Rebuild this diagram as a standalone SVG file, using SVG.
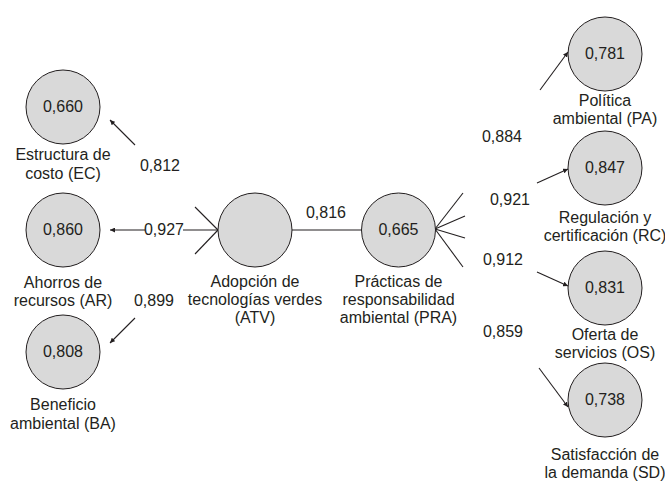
<svg xmlns="http://www.w3.org/2000/svg" width="665" height="481" viewBox="0 0 665 481">
<style>
.c{fill:#d9d9d9;stroke:#231f20;stroke-width:1}
.t{font-family:"Liberation Sans",Arial,sans-serif;font-size:16px;fill:#231f20;text-anchor:middle}
.l{stroke:#231f20;stroke-width:1.1;fill:none}
.a{stroke:#231f20;stroke-width:1.1;fill:none;marker-end:url(#ah)}
</style>
<defs>
<marker id="ah" markerWidth="6" markerHeight="5" refX="5" refY="2.5" orient="auto" markerUnits="userSpaceOnUse">
<path d="M0,0 L5,2.5 L0,5 Z" fill="#231f20"/>
</marker>
</defs>
<rect width="665" height="481" fill="#ffffff"/>
<g id="connectors">
<line class="a" x1="135" y1="145" x2="110" y2="120"/>
<line class="a" x1="145" y1="230" x2="110" y2="230"/>
<line class="l" x1="183" y1="230" x2="218" y2="230"/>
<line class="a" x1="135" y1="318" x2="110" y2="343"/>
<line class="l" x1="218" y1="230" x2="195" y2="207"/>
<line class="l" x1="218" y1="230" x2="195" y2="254"/>
<line class="l" x1="292" y1="230" x2="362" y2="230"/>
<line class="l" x1="435" y1="229" x2="463" y2="193"/>
<line class="l" x1="435" y1="229" x2="465" y2="216"/>
<line class="l" x1="435" y1="229" x2="465" y2="238"/>
<line class="l" x1="435" y1="229" x2="463" y2="267"/>
<line class="a" x1="540" y1="90" x2="568" y2="52"/>
<line class="a" x1="537" y1="183" x2="568" y2="169"/>
<line class="a" x1="537" y1="272" x2="568" y2="286"/>
<line class="a" x1="539" y1="368" x2="568" y2="407"/>
<text class="t" x="160" y="171">0,812</text>
<text class="t" x="164" y="235">0,927</text>
<text class="t" x="154" y="306">0,899</text>
<text class="t" x="326" y="218">0,816</text>
<text class="t" x="502" y="142">0,884</text>
<text class="t" x="510" y="205">0,921</text>
<text class="t" x="503" y="265">0,912</text>
<text class="t" x="503" y="337">0,859</text>
</g>
<g id="EC">
<circle class="c" cx="63" cy="107" r="37"/>
<text class="t" x="63" y="112">0,660</text>
<text class="t" x="63" y="160">Estructura de</text>
<text class="t" x="63" y="179">costo (EC)</text>
</g>
<g id="AR">
<circle class="c" cx="63" cy="230" r="37"/>
<text class="t" x="63" y="235">0,860</text>
<text class="t" x="63" y="288">Ahorros de</text>
<text class="t" x="63" y="306">recursos (AR)</text>
</g>
<g id="BA">
<circle class="c" cx="63" cy="352" r="37"/>
<text class="t" x="63" y="357">0,808</text>
<text class="t" x="63" y="410">Beneficio</text>
<text class="t" x="63" y="429">ambiental (BA)</text>
</g>
<g id="ATV">
<circle class="c" cx="255" cy="230" r="37"/>
<text class="t" x="255" y="287">Adopción de</text>
<text class="t" x="255" y="305">tecnologías verdes</text>
<text class="t" x="255" y="323">(ATV)</text>
</g>
<g id="PRA">
<circle class="c" cx="398.5" cy="230" r="37"/>
<text class="t" x="398.5" y="235">0,665</text>
<text class="t" x="398.5" y="287">Prácticas de</text>
<text class="t" x="398.5" y="305">responsabilidad</text>
<text class="t" x="398.5" y="323">ambiental (PRA)</text>
</g>
<g id="PA">
<circle class="c" cx="605" cy="54" r="37"/>
<text class="t" x="605" y="59">0,781</text>
<text class="t" x="605" y="106">Política</text>
<text class="t" x="605" y="124">ambiental (PA)</text>
</g>
<g id="RC">
<circle class="c" cx="605" cy="168" r="37"/>
<text class="t" x="605" y="173">0,847</text>
<text class="t" x="605" y="223">Regulación y</text>
<text class="t" x="605" y="241">certificación (RC)</text>
</g>
<g id="OS">
<circle class="c" cx="605" cy="288" r="37"/>
<text class="t" x="605" y="293">0,831</text>
<text class="t" x="605" y="340">Oferta de</text>
<text class="t" x="605" y="358">servicios (OS)</text>
</g>
<g id="SD">
<circle class="c" cx="605" cy="400" r="37"/>
<text class="t" x="605" y="405">0,738</text>
<text class="t" x="605" y="460">Satisfacción de</text>
<text class="t" x="605" y="478">la demanda (SD)</text>
</g>
</svg>
